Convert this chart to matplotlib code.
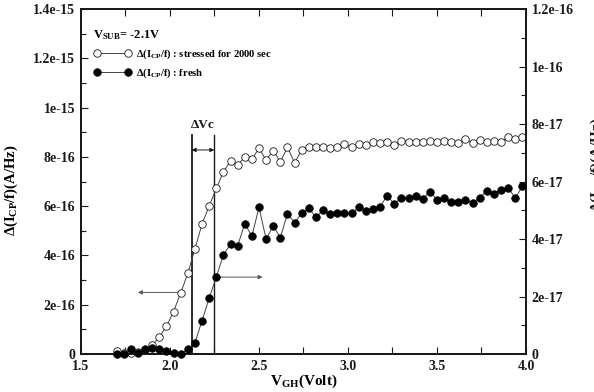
import matplotlib
matplotlib.use('Agg')
import matplotlib.pyplot as plt
import numpy as np
from matplotlib.ticker import FixedLocator, MultipleLocator
from matplotlib.lines import Line2D

plt.rcParams['font.family'] = ['Liberation Serif', 'DejaVu Serif']
plt.rcParams['font.weight'] = 'bold'
plt.rcParams['mathtext.fontset'] = 'custom'
plt.rcParams['mathtext.rm'] = 'Liberation Serif:bold'
plt.rcParams['mathtext.it'] = 'Liberation Serif:bold'
plt.rcParams['mathtext.bf'] = 'Liberation Serif:bold'

# ---------------- data ----------------
v_gh = [1.70, 1.74, 1.78, 1.82, 1.86, 1.90, 1.94, 1.98, 2.02, 2.06,
        2.10, 2.14, 2.18, 2.22, 2.26, 2.30, 2.34, 2.38, 2.42, 2.46,
        2.50, 2.54, 2.58, 2.62, 2.66, 2.70, 2.74, 2.78, 2.82, 2.86,
        2.90, 2.94, 2.98, 3.02, 3.06, 3.10, 3.14, 3.18, 3.22, 3.26,
        3.30, 3.34, 3.38, 3.42, 3.46, 3.50, 3.54, 3.58, 3.62, 3.66,
        3.70, 3.74, 3.78, 3.82, 3.86, 3.90, 3.94, 3.98]

# stressed for 2000 sec, left axis, units of 1e-16 A/Hz
stressed_e16 = [0.12, 0.06, 0.04, 0.08, 0.15, 0.35, 0.70, 1.12, 1.72, 2.48,
                3.27, 4.26, 5.28, 6.00, 6.72, 7.39, 7.83, 7.67, 8.00, 7.90,
                8.35, 7.87, 8.25, 7.80, 8.39, 7.76, 8.28, 8.39, 8.39, 8.39,
                8.35, 8.41, 8.52, 8.39, 8.52, 8.48, 8.59, 8.55, 8.62, 8.48,
                8.66, 8.62, 8.62, 8.62, 8.66, 8.59, 8.66, 8.59, 8.55, 8.73,
                8.55, 8.69, 8.59, 8.66, 8.59, 8.82, 8.73, 8.79]

# fresh, right axis, units of 1e-17
fresh_e17 = [0.00, 0.00, 0.16, 0.03, 0.16, 0.22, 0.18, 0.10, 0.05, 0.00,
             0.16, 0.39, 1.16, 1.94, 2.68, 3.44, 3.83, 3.76, 4.53, 4.10,
             5.10, 4.00, 4.45, 4.05, 4.88, 4.57, 4.89, 5.07, 4.75, 5.01,
             4.86, 4.91, 4.91, 4.89, 5.10, 4.98, 5.04, 5.12, 5.51, 5.22,
             5.44, 5.44, 5.50, 5.39, 5.65, 5.37, 5.44, 5.29, 5.29, 5.37,
             5.26, 5.44, 5.67, 5.58, 5.71, 5.77, 5.43, 5.83]

x_ticks = [1.5, 2.0, 2.5, 3.0, 3.5, 4.0]
x_tick_labels = ['1.5', '2.0', '2.5', '3.0', '3.5', '4.0']
left_ticks = [0, 2e-16, 4e-16, 6e-16, 8e-16, 1e-15, 1.2e-15, 1.4e-15]
left_tick_labels = ['0', '2e-16', '4e-16', '6e-16', '8e-16', '1e-15', '1.2e-15', '1.4e-15']
right_ticks = [0, 2e-17, 4e-17, 6e-17, 8e-17, 1e-16, 1.2e-16]
right_tick_labels = ['0', '2e-17', '4e-17', '6e-17', '8e-17', '1e-16', '1.2e-16']

# annotation geometry (data units)
vc_fresh = 2.122
vc_stressed = 2.249

stressed = np.array(stressed_e16) * 1e-16
fresh = np.array(fresh_e17) * 1e-17

# ---------------- figure ----------------
fig = plt.figure(figsize=(5.94, 3.92), dpi=100)
ax = fig.add_axes([81/594, 38/392, 445/594, 345/392])
ax2 = ax.twinx()

ink = '#1a1a1a'
line_c = '#444444'

ax.plot(v_gh, stressed, '-', color=line_c, lw=0.7, marker='o', ms=5.4,
        mfc='white', mec=ink, mew=0.6, clip_on=False, zorder=3)
ax2.plot(v_gh, fresh, '-', color=line_c, lw=0.7, marker='o', ms=5.4,
         mfc='black', mec='black', mew=0.6, clip_on=False, zorder=3)

ax.set_xlim(1.5, 4.0)
ax.set_ylim(0, 1.4e-15)
ax2.set_ylim(0, 1.2e-16)

ax.xaxis.set_major_locator(FixedLocator(x_ticks))
ax.set_xticklabels(x_tick_labels)
ax.xaxis.set_minor_locator(MultipleLocator(0.25))
ax.yaxis.set_major_locator(FixedLocator(left_ticks))
ax.set_yticklabels(left_tick_labels)
ax.yaxis.set_minor_locator(MultipleLocator(1e-16))
ax2.yaxis.set_major_locator(FixedLocator(right_ticks))
ax2.set_yticklabels(right_tick_labels)
ax2.yaxis.set_minor_locator(MultipleLocator(1e-17))

for a in (ax, ax2):
    for s in a.spines.values():
        s.set_linewidth(1.4)
        s.set_color(ink)
ax.tick_params(axis='x', which='both', direction='in', top=True, labelsize=10,
               pad=4.5, colors=ink)
ax.tick_params(axis='x', which='major', length=5, width=0.8)
ax.tick_params(axis='x', which='minor', length=5, width=0.8)
ax.tick_params(axis='y', which='both', direction='in', right=False, labelsize=10,
               pad=4, colors=ink)
ax.tick_params(axis='y', which='major', length=5, width=0.8)
ax.tick_params(axis='y', which='minor', length=3.5, width=0.8)
ax2.tick_params(axis='y', which='both', direction='in', labelsize=10, pad=4,
                colors=ink)
ax2.tick_params(axis='y', which='major', length=5, width=0.8)
ax2.tick_params(axis='y', which='minor', length=3.5, width=0.8)

ax.set_xlabel('V$_{\\mathrm{GH}}$(Volt)', fontsize=11, fontweight='bold', labelpad=-0.5)
ax.set_ylabel('Δ(I$_{\\mathrm{CP}}$/f)(A/Hz)', fontsize=10.5, fontweight='bold')
ax.yaxis.set_label_coords(-0.138, 0.475)

# vertical lines marking the threshold shift
ax.plot([vc_fresh, vc_fresh], [0, 8.9e-16], color=ink, lw=1.3, zorder=2)
ax.plot([vc_stressed, vc_stressed], [0, 8.9e-16], color=ink, lw=1.0, zorder=2)
ax.annotate('', xy=(vc_fresh, 8.28e-16), xytext=(vc_stressed, 8.28e-16),
            arrowprops=dict(arrowstyle='<|-|>', color=ink, lw=0.7,
                            mutation_scale=6, shrinkA=0, shrinkB=0))
ax.text((vc_fresh + vc_stressed) / 2, 9.05e-16, 'ΔVc', ha='center', va='bottom',
        fontsize=9.5, fontweight='bold', color=ink)

# axis pointer arrows
ax.annotate('', xy=(1.82, 2.5e-16), xytext=(2.045, 2.5e-16),
            arrowprops=dict(arrowstyle='-|>', color='#555555', lw=0.7,
                            mutation_scale=6, shrinkA=0, shrinkB=0))
ax.annotate('', xy=(2.52, 3.12e-16), xytext=(2.26, 3.12e-16),
            arrowprops=dict(arrowstyle='-|>', color='#555555', lw=0.7,
                            mutation_scale=6, shrinkA=0, shrinkB=0))

# legend
h1 = Line2D([], [], color=line_c, lw=0.7, marker='o', ms=5.4, mfc='white',
            mec=ink, mew=0.6)
h2 = Line2D([], [], color=line_c, lw=0.7, marker='o', ms=5.4, mfc='black',
            mec='black', mew=0.6)
leg = ax2.legend([h1, h2],
                 ['Δ(I$_{\\mathrm{CP}}$/f) : stressed for 2000 sec',
                  'Δ(I$_{\\mathrm{CP}}$/f) : fresh'],
                 title='V$_{\\mathrm{SUB}}$= -2.1V', title_fontsize=9,
                 loc='upper left', bbox_to_anchor=(0.028, 0.944), frameon=False,
                 numpoints=2, handlelength=3.6, handletextpad=0.45,
                 fontsize=7.6, labelspacing=0.5, borderaxespad=0,
                 borderpad=0, alignment='left')
for t in leg.get_texts():
    t.set_fontweight('bold')
leg.get_title().set_fontweight('bold')

# right-hand label, mostly cut off by the figure edge (as in the source image)
fig.text(1.006, 0.58, 'Δ(I$_{\\mathrm{CP}}$/f)(A/Hz)', rotation=90,
         ha='center', va='center', fontsize=11, fontweight='bold', color=ink)

fig.savefig('out.png', dpi=100)
